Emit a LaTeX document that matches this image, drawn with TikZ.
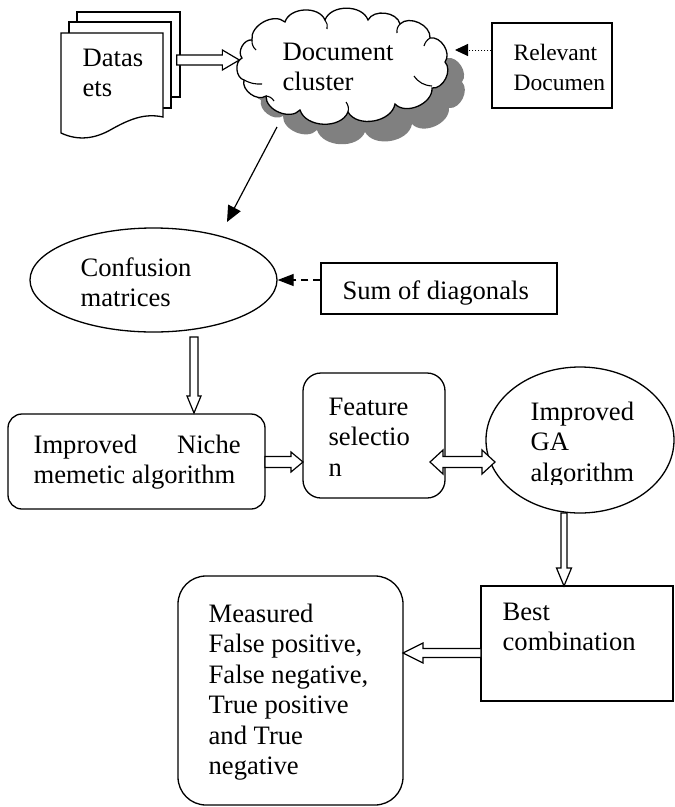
\documentclass[tikz,border=0pt]{standalone}
\usepackage{fontspec}
\setmainfont{Liberation Serif}
\usetikzlibrary{shapes.geometric,calc,arrows.meta}
\definecolor{shade}{HTML}{808080}
\newcommand\ml[1]{\begin{tabular}[t]{@{}l@{}}#1\end{tabular}}
\newcommand\hollowarrow[5]{%
  \coordinate (hA) at (#1); \coordinate (hB) at (#2);
  \coordinate (hC) at ($(hB)!#5!(hA)$);
  \draw[hollow] ($(hA)!#3!90:(hB)$) -- ($(hC)!#3!90:(hB)$) -- ($(hC)!#4!90:(hB)$)
    -- (hB) -- ($(hC)!#4!-90:(hB)$) -- ($(hC)!#3!-90:(hB)$) -- ($(hA)!#3!-90:(hB)$) -- cycle;}
\newcommand\dhollowarrow[5]{%
  \coordinate (hA) at (#1); \coordinate (hB) at (#2);
  \coordinate (hC) at ($(hA)!#5!(hB)$); \coordinate (hD) at ($(hB)!#5!(hA)$);
  \draw[hollow] ($(hC)!#3!90:(hB)$) -- ($(hD)!#3!90:(hB)$) -- ($(hD)!#4!90:(hB)$)
    -- (hB) -- ($(hD)!#4!-90:(hB)$) -- ($(hD)!#3!-90:(hB)$) -- ($(hC)!#3!-90:(hB)$)
    -- ($(hC)!#4!-90:(hB)$) -- (hA) -- ($(hC)!#4!90:(hB)$) -- cycle;}
\newcommand\cloudoutline[1]{%
  \path[#1] (252,40) to[bend left=70] (285,22) to[bend left=70] (325,20)
    to[bend left=70] (368,20) to[bend left=70] (400,24) to[bend left=70] (430,38)
    to[bend left=70] (445,62) to[bend left=70] (432,88) to[bend left=70] (395,104)
    to[bend left=70] (348,112) to[bend left=70] (300,110) to[bend left=70] (266,96)
    to[bend left=70] (244,80) to[bend left=70] (242,58) to[bend left=70] (252,40) -- cycle;}
\begin{document}
\begin{tikzpicture}[x=1pt,y=-1pt, line width=1.3pt,
  hollow/.style={draw=black, fill=white, line width=1.2pt, line join=miter},
  txt/.style={inner sep=0pt, anchor=base west, font=\fontsize{26.6}{30.5}\selectfont},
  smalltxt/.style={inner sep=0pt, anchor=base west, font=\fontsize{23.5}{30}\selectfont},
  boxr/.style={draw, fill=white, rectangle, inner sep=0pt},
  rbox/.style={draw, fill=white, rectangle, rounded corners=#1, inner sep=0pt},
  oval/.style={draw, fill=white, ellipse, inner sep=0pt},
  page/.style={draw, fill=white, line width=1.3pt}]
\useasboundingbox (0,0) rectangle (675,807);

% datasets
\node[minimum width=102pt, minimum height=100pt, inner sep=0pt] (ds) at (112,83) {};
\draw[page] (77,12) rectangle (180,97);
\draw[page] (69,22) rectangle (171,108);
\draw[page] (61,133) -- (61,33) -- (163,33) -- (163,117)
  .. controls (145,113) and (130,119) .. (112,129)
  .. controls (95,139) and (78,141) .. (61,133) -- cycle;
\node[txt] (dst) at (82,66) {\ml{Datas\\ets}};

% cloud
\node[minimum width=218pt, minimum height=110pt, inner sep=0pt] (cl) at (345,66) {};
\cloudoutline{fill=shade, shift={(17,20)}}
\cloudoutline{draw, fill=white}
\draw[line width=1.1pt]
  (252,40) to[bend right=25] (256,50)
  (325,20) to[bend left=25] (327,29)
  (400,24) to[bend right=25] (397,33)
  (430,38) to[bend right=20] (424,46)
  (432,86) to[bend left=25] (414,76)
  (348,112) to[bend right=25] (346,102)
  (266,96) to[bend left=25] (274,101)
  (244,80) to[bend right=15] (262,84);
\node[txt] (clt) at (282,60) {\ml{Document\\cluster}};

% relevant documents
\node[boxr, minimum width=120pt, minimum height=85pt] (rd) at (552,65.5) {};
\node[smalltxt] (rdt) at (513,60) {\ml{Relevant\\Documen}};

% confusion matrices
\node[oval, minimum width=247pt, minimum height=104pt] (cm) at (153.5,280) {};
\node[txt] (cmt) at (80,276) {\ml{Confusion\\matrices}};

% sum of diagonals
\node[boxr, minimum width=236pt, minimum height=51pt] (sd) at (439,288.5) {};
\node[txt] (sdt) at (342,299) {Sum of diagonals};

% niche memetic
\node[rbox=14pt, minimum width=257pt, minimum height=95pt] (nm) at (136.5,461.5) {};
\node[txt] (nmt) at (33,453) {\ml{\makebox[207pt][s]{Improved\hfill Niche}\\memetic algorithm}};

% feature selection
\node[rbox=18pt, minimum width=142pt, minimum height=125pt] (fs) at (374,435.5) {};
\node[txt] (fst) at (328,415) {\ml{Feature\\selectio\\n}};

% GA
\node[oval, minimum width=188pt, minimum height=146pt] (ga) at (580,440) {};
\begin{scope}
\clip (480,370) rectangle (675,484.5);
\node[txt] (gat) at (530,420) {\ml{Improved\\GA\\algorithm}};
\end{scope}

% best combination
\node[boxr, minimum width=192pt, minimum height=115pt] (bc) at (577,643.5) {};
\node[txt] (bct) at (502,620) {\ml{Best\\combination}};

% measured
\node[rbox=28pt, minimum width=225pt, minimum height=229pt] (ms) at (290.5,690.5) {};
\node[txt] (mst) at (208,622) {\ml{Measured\\False positive,\\False negative,\\True positive\\and True\\negative}};

% connectors
\coordinate (dsR) at ($(ds.east)+(13,-23)$);
\coordinate (clL) at ($(cl.west)+(4,-6)$);
\hollowarrow{dsR}{clL}{5pt}{10pt}{17pt}

\coordinate (rdL) at ($(rd.west)+(0,-15.5)$);
\coordinate (clR) at (455,50);
\draw[line width=1pt, dotted, -{Triangle[length=13pt,width=12pt]}] (rdL) -- (clR);

\coordinate (clB) at (277,127);
\coordinate (cmT) at (227,222);
\draw[line width=1.2pt, -{Triangle[length=16pt,width=14pt]}] (clB) -- (cmT);

\coordinate (sdL) at ($(sd.west)+(0,-8.5)$);
\draw[line width=1.2pt, dash pattern=on 7pt off 5pt, -{Triangle[length=16pt,width=12pt]}] (sdL) -- (cm.east);

\coordinate (cmB) at (194,337);
\coordinate (nmT) at (194,413);
\hollowarrow{cmB}{nmT}{4pt}{7pt}{17pt}

\coordinate (nmR) at (265,462);
\coordinate (fsL) at (303,462);
\hollowarrow{nmR}{fsL}{5.5pt}{10pt}{12pt}

\coordinate (fsR) at (430,462);
\coordinate (gaL) at (495,462);
\dhollowarrow{fsR}{gaL}{5.5pt}{12pt}{13pt}

\coordinate (gaB) at (564,513);
\coordinate (bcT) at (564,586);
\hollowarrow{gaB}{bcT}{3pt}{7.5pt}{18pt}

\coordinate (bcL) at (481,653);
\coordinate (msR) at (403,653);
\hollowarrow{bcL}{msR}{4.5pt}{10pt}{20pt}
\end{tikzpicture}
\end{document}
